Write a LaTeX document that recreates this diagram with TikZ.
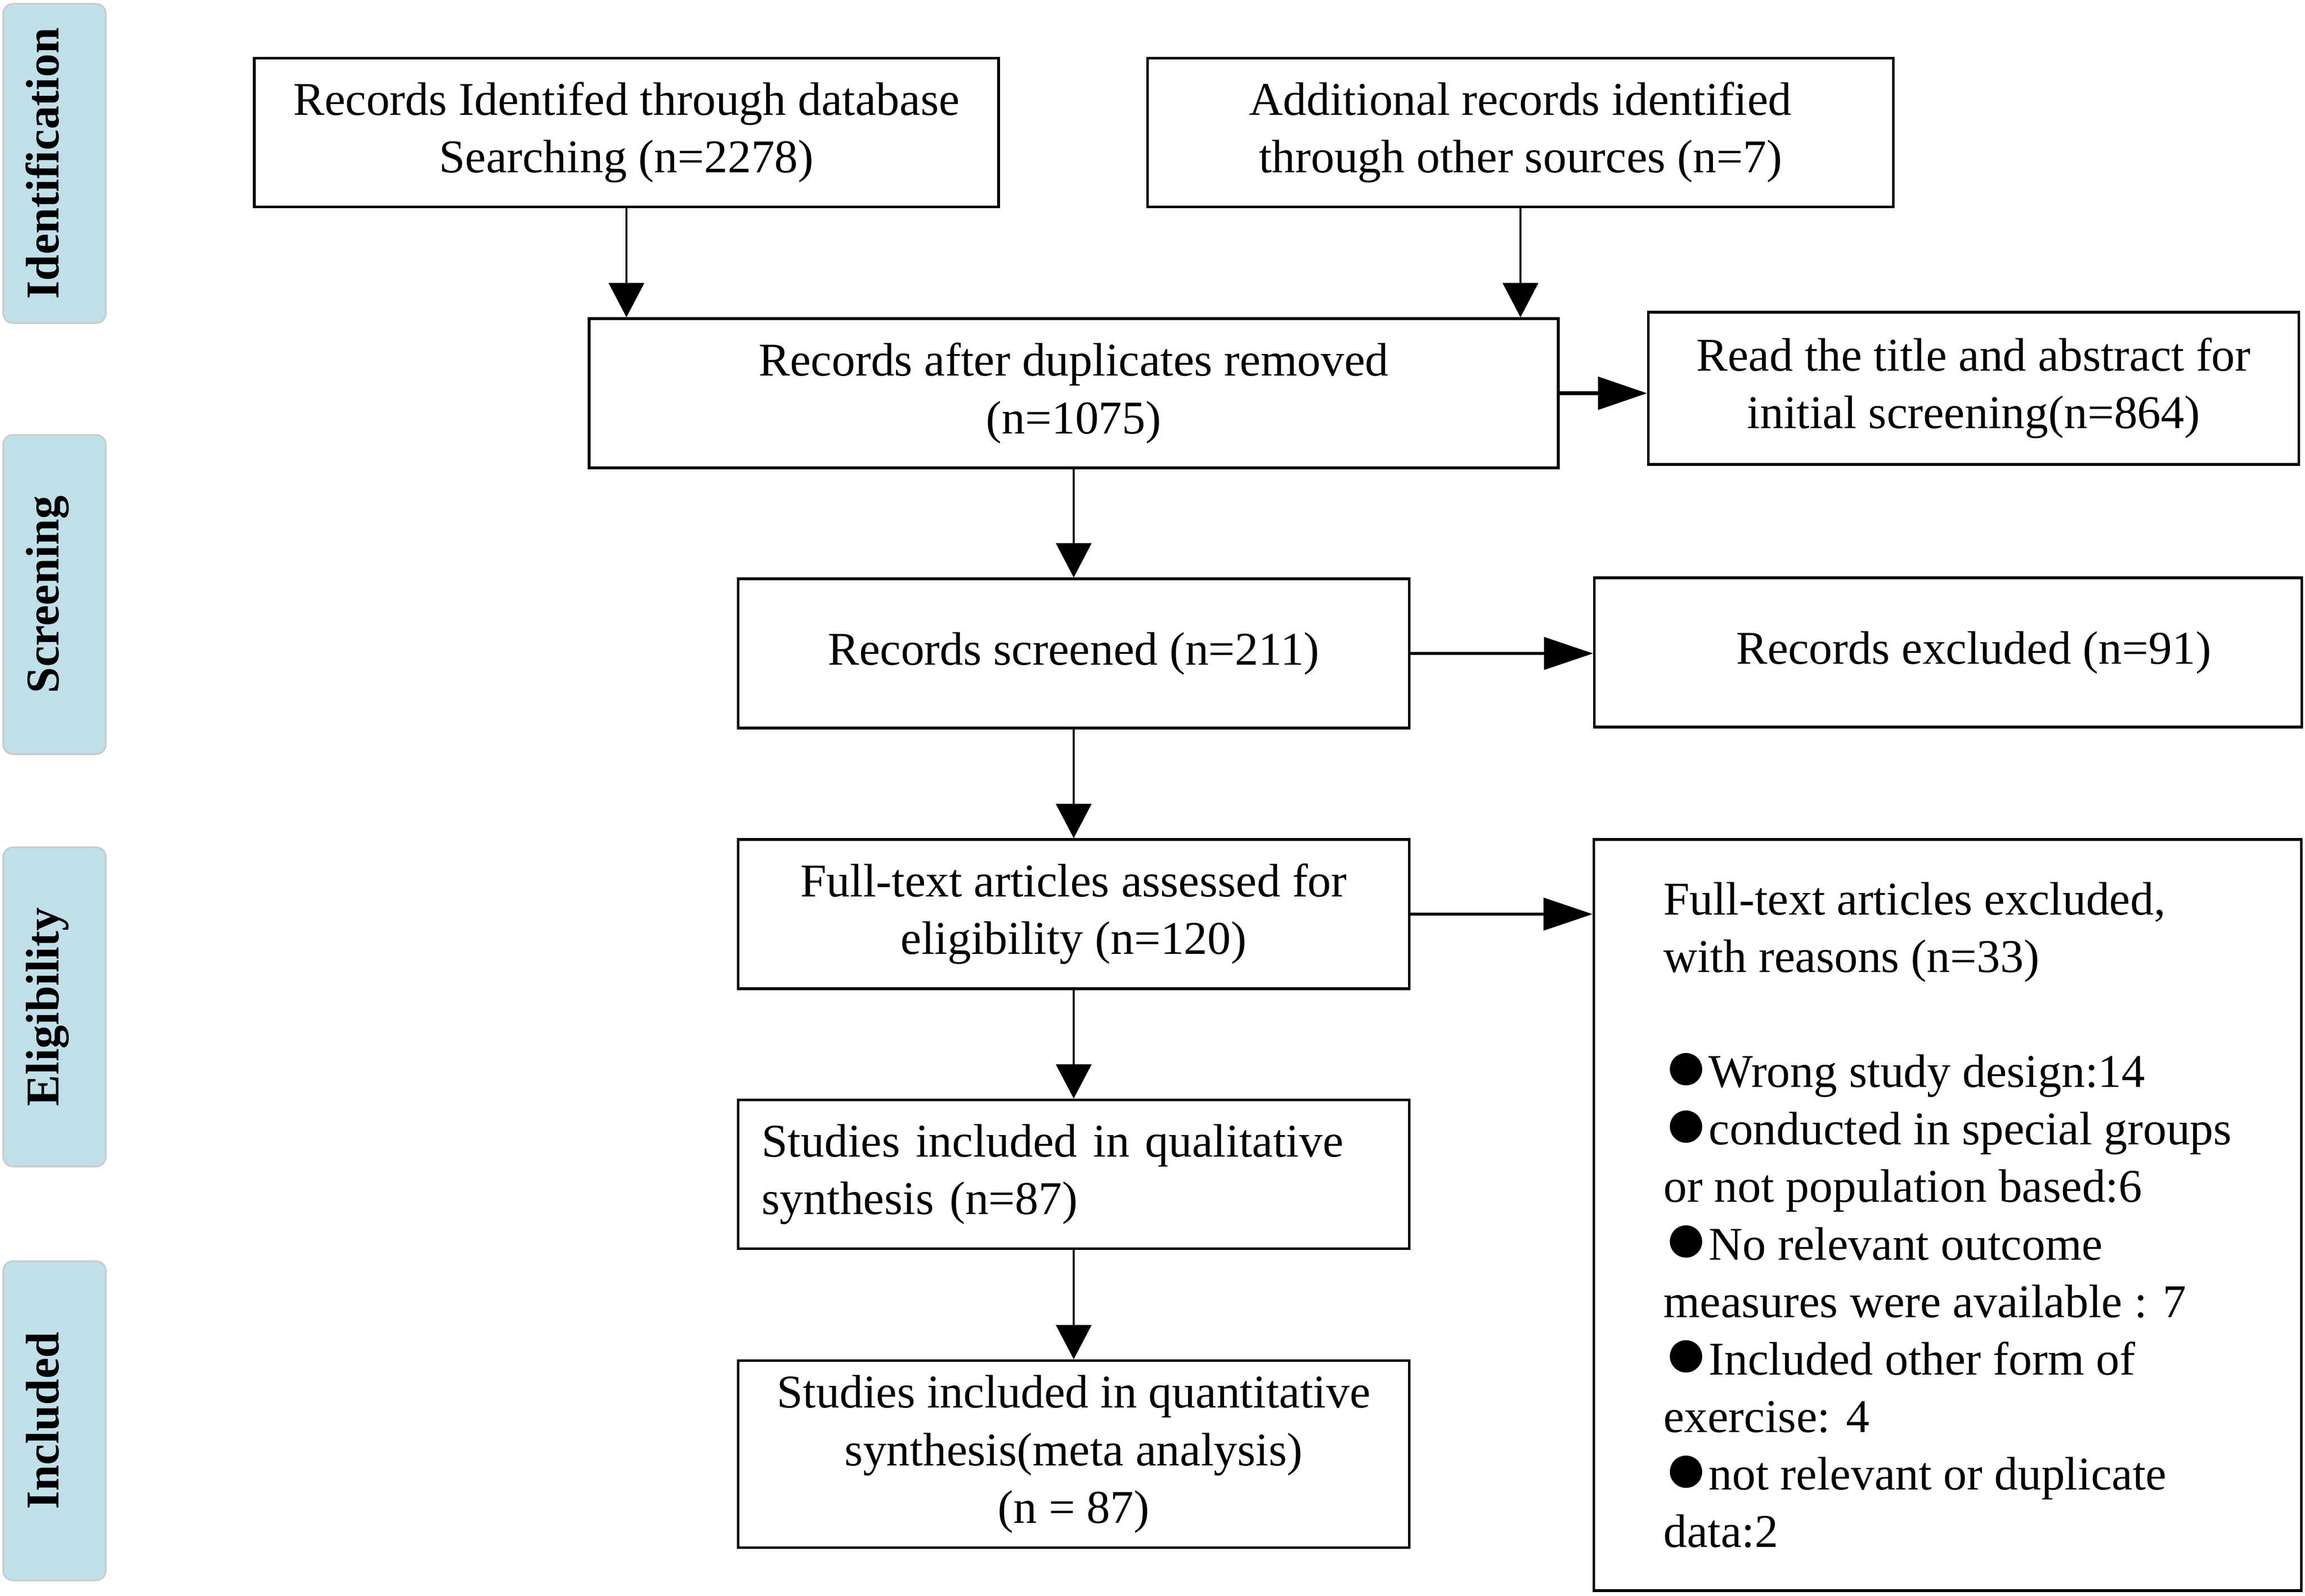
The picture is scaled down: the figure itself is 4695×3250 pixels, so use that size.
\documentclass[tikz,border=0pt]{standalone}
\usepackage{fontspec}
\setmainfont{Liberation Serif}
\usetikzlibrary{arrows.meta}
\definecolor{bandfill}{RGB}{192,223,232}
\definecolor{bandline}{RGB}{198,202,206}
\newcommand{\bul}{\raisebox{-0.07em}{\scalebox{1.6}{●}}}
\begin{document}
\begin{tikzpicture}[x=0.01cm,y=-0.01cm,
		font=\fontsize{27.2pt}{33.3pt}\selectfont,
		box/.style={draw,line width=1.5pt,align=center,inner sep=0pt},
		band/.style={draw=bandline,line width=0.9pt,fill=bandfill,rounded corners=0.2cm,rotate=90,
			minimum width=6.5cm,minimum height=2.09cm,text height=0.68em,text depth=0.22em,
			font=\fontsize{27.2pt}{33.3pt}\selectfont\bfseries},
		down/.style={-{Triangle[length=0.7cm,width=0.72cm]},line width=1.3pt},
		side/.style={-{Triangle[length=1cm,width=0.66cm]},line width=1.5pt}]
				\useasboundingbox (0,0) rectangle (4695,3250);
				\foreach \name/\y/\lab in {ident/333/Identification,scr/1211/Screening,elig/2051/Eligibility,incl/2894/Included}{
					\node[band] (\name) at (111,\y) {\lab};
				}
				\node[box,minimum width=15.15cm,minimum height=3.03cm] (dbase) at (1276,270)
					{Records Identifed through database\\Searching (n=2278)};
				\node[box,minimum width=15.18cm,minimum height=3.03cm] (other) at (3097,270)
					{Additional records identified\\through other sources (n=7)};
				\node[box,minimum width=19.73cm,minimum height=3.04cm] (dupl) at (2187,801)
					{Records after duplicates removed\\(n=1075)};
				\node[box,minimum width=13.24cm,minimum height=3.1cm] (title) at (4020,791)
					{Read the title and abstract for\\initial screening(n=864)};
				\node[box,minimum width=13.66cm,minimum height=3.04cm] (screen) at (2187,1331)
					{Records screened (n=211)};
				\node[box,minimum width=14.4cm,minimum height=3.04cm] (rexcl) at (3968,1329)
					{\hspace*{1.04cm}Records excluded (n=91)};
				\node[box,minimum width=13.66cm,minimum height=3.04cm] (fulltext) at (2187,1862)
					{Full-text articles assessed for\\eligibility (n=120)};
				\node[box,align=left,minimum width=14.4cm,minimum height=15.29cm] (ftexcl) at (3967,2475)
					{Full-text articles excluded,\\with reasons (n=33)\\[1.17cm]%
					\bul Wrong study design:14\\\bul conducted in special groups\\or not population based:6\\%
					\bul No relevant outcome\\measures were available : 7\\\bul Included other form of\\exercise: 4\\%
					\bul not relevant or duplicate\\data:2};
				\node[box,align=left,text width=12.7cm,minimum width=13.66cm,minimum height=3.03cm] (qual) at (2187,2392)
					{Studies included in qualitative\\synthesis (n=87)};
				\node[box,minimum width=13.66cm,minimum height=3.81cm] (quant) at (2187,2962)
					{Studies included in quantitative\\synthesis(meta analysis)\\(n = 87)};
				\draw[down] (dbase.south) -- (dbase.south |- dupl.north);
				\draw[down] (other.south) -- (other.south |- dupl.north);
				\foreach \a/\b in {dupl/screen,screen/fulltext,fulltext/qual,qual/quant}{
					\draw[down] (\a.south) -- (\b.north);
				}
				\draw[side,line width=2.2pt] (dupl.east) -- (dupl.east -| title.west);
				\draw[side] (screen.east) -- (screen.east -| rexcl.west);
				\draw[side] (fulltext.east) -- (fulltext.east -| ftexcl.west);
			\end{tikzpicture}
\end{document}
